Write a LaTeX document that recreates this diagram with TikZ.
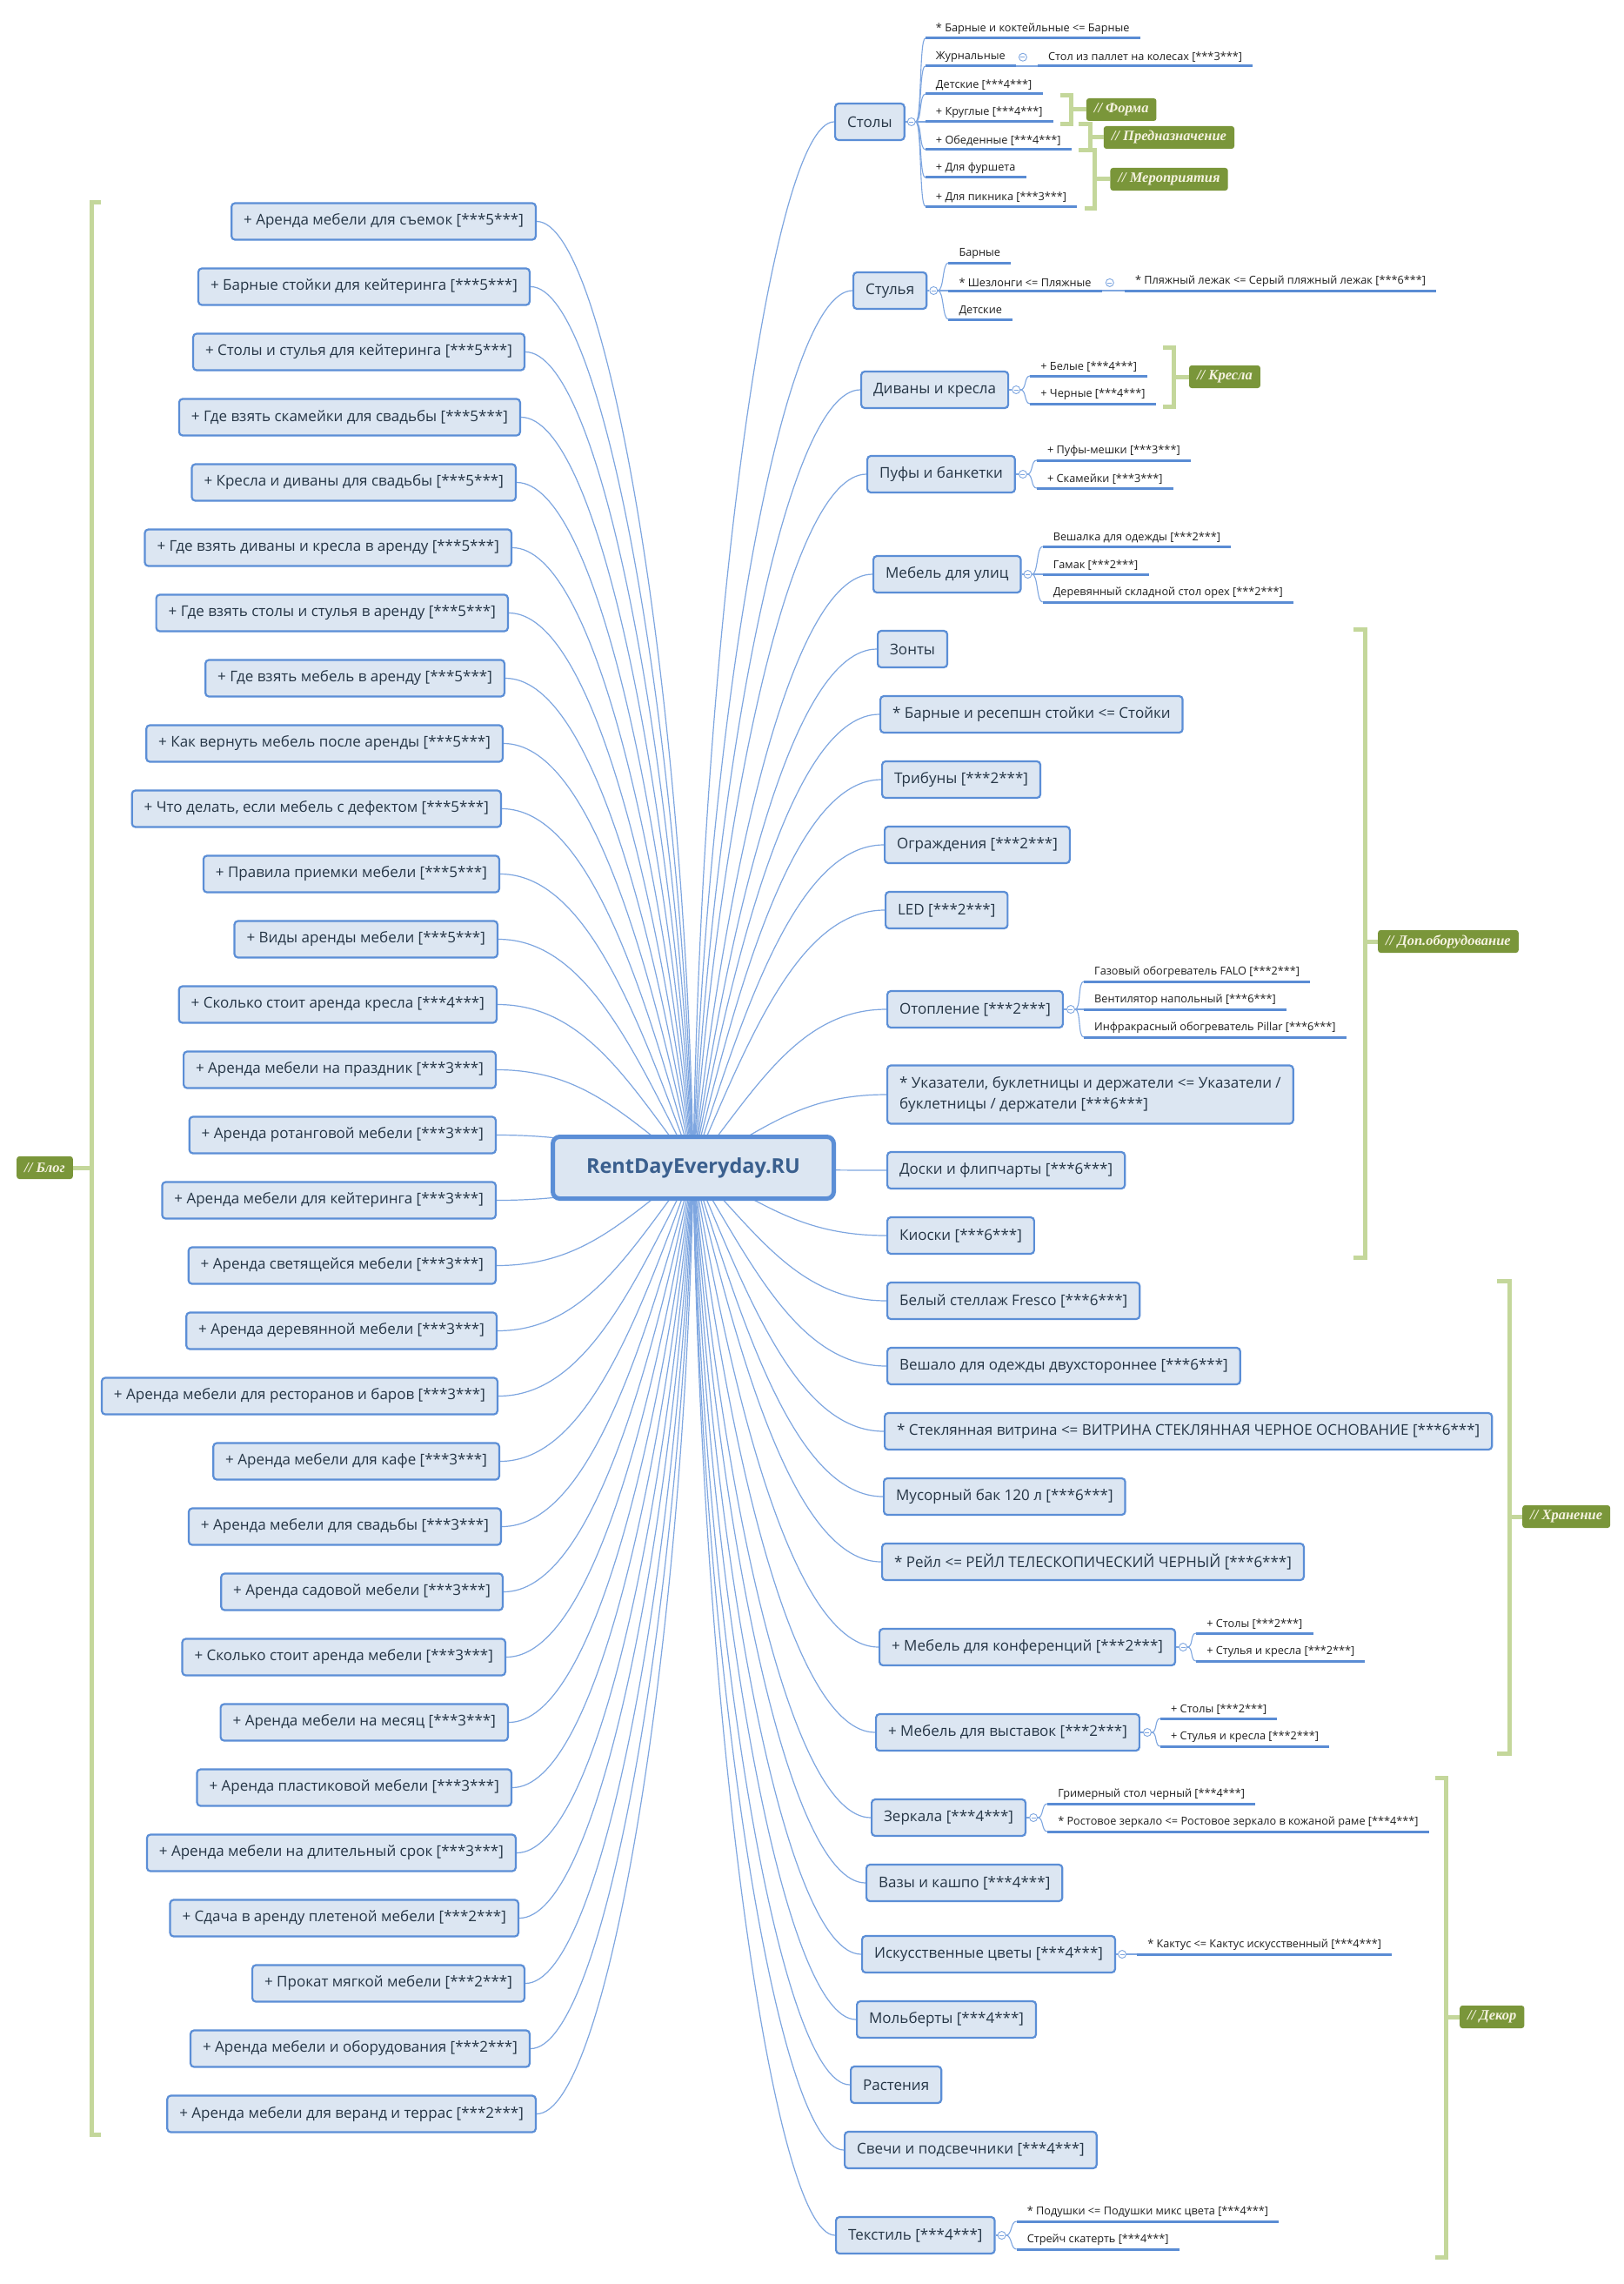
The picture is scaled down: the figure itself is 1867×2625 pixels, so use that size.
\documentclass[tikz,border=0pt]{standalone}
\usepackage{fontspec}
\setmainfont{Open Sans}
\newfontfamily\tagfont{Liberation Serif}
\usetikzlibrary{calc,backgrounds}
\definecolor{boxline}{HTML}{5B8ED6}
\definecolor{boxfill}{HTML}{DCE6F2}
\definecolor{boxtext}{HTML}{263646}
\definecolor{roottext}{HTML}{3A5F8E}
\definecolor{linkblue}{HTML}{7EA6E0}
\definecolor{underblue}{HTML}{5A8CD4}
\definecolor{tagfill}{HTML}{7A963A}
\definecolor{tagtext}{HTML}{F5F2E0}
\definecolor{bracegreen}{HTML}{C4D79B}
\newcommand{\topicsize}{\fontsize{17}{20}\selectfont}
\newcommand{\leafsize}{\fontsize{12.7}{15}\selectfont}
\tikzset{rootbox/.style={draw=boxline,fill=boxfill,line width=5pt,rounded corners=8pt,minimum width=323,minimum height=71,font=\bfseries\fontsize{23.5}{27}\selectfont,text=roottext},topic/.style={draw=boxline,fill=boxfill,line width=2.2pt,rounded corners=4pt,minimum height=42,inner xsep=14,font=\topicsize,text=boxtext},leaf/.style={anchor=south west,inner xsep=12,inner ysep=4,font=\leafsize,text=black!88},underl/.style={draw=underblue,line width=3pt},twig/.style={draw=linkblue,line width=1.1pt},branch/.style={draw=linkblue,line width=1.2pt},fold/.style={circle,draw=linkblue,fill=white,line width=.9pt,minimum size=9,inner sep=0pt,path picture={\draw[linkblue,line width=.8pt] ([xshift=-2.5pt]path picture bounding box.center)--([xshift=2.5pt]path picture bounding box.center);}},brace/.style={draw=bracegreen,line width=5pt},tag/.style={fill=tagfill,rounded corners=3pt,text=tagtext,font=\tagfont\bfseries\itshape\fontsize{16.5}{19}\selectfont,inner xsep=9,minimum height=26,anchor=west}}
\begin{document}
\begin{tikzpicture}[x=1pt,y=-1pt]
\useasboundingbox (0,0) rectangle (1867,2625);
\node[rootbox] (root) at (797,1342) {RentDayEveryday.RU};
\foreach \t/\r [count=\i] in {{+ Аренда мебели для съемок [***5***]}/617,{+ Барные стойки для кейтеринга [***5***]}/610,{+ Столы и стулья для кейтеринга [***5***]}/604,{+ Где взять скамейки для свадьбы [***5***]}/599,{+ Кресла и диваны для свадьбы [***5***]}/594,{+ Где взять диваны и кресла в аренду [***5***]}/589,{+ Где взять столы и стулья в аренду [***5***]}/585,{+ Где взять мебель в аренду [***5***]}/581,{+ Как вернуть мебель после аренды [***5***]}/579,{+ Что делать, если мебель с дефектом [***5***]}/577,{+ Правила приемки мебели [***5***]}/575,{+ Виды аренды мебели [***5***]}/573,{+ Сколько стоит аренда кресла [***4***]}/572,{+ Аренда мебели на праздник [***3***]}/571,{+ Аренда ротанговой мебели [***3***]}/571,{+ Аренда мебели для кейтеринга [***3***]}/571,{+ Аренда светящейся мебели [***3***]}/571,{+ Аренда деревянной мебели [***3***]}/572,{+ Аренда мебели для ресторанов и баров [***3***]}/573,{+ Аренда мебели для кафе [***3***]}/575,{+ Аренда мебели для свадьбы [***3***]}/577,{+ Аренда садовой мебели [***3***]}/579,{+ Сколько стоит аренда мебели [***3***]}/582,{+ Аренда мебели на месяц [***3***]}/585,{+ Аренда пластиковой мебели [***3***]}/589,{+ Аренда мебели на длительный срок [***3***]}/594,{+ Сдача в аренду плетеной мебели [***2***]}/597,{+ Прокат мягкой мебели [***2***]}/604,{+ Аренда мебели и оборудования [***2***]}/610,{+ Аренда мебели для веранд и террас [***2***]}/617}
  \node[topic,anchor=east] (b\i) at (\r,{254.5+75*(\i-1)}) {\t};
\node[topic,anchor=west] (stoly) at (959,140) {Столы};
\node[topic,anchor=west] (stulya) at (980,334) {Стулья};
\node[topic,anchor=west] (divany) at (989,448) {Диваны и кресла};
\node[topic,anchor=west] (pufy) at (996,545) {Пуфы и банкетки};
\node[topic,anchor=west] (ulica) at (1003,660) {Мебель для улиц};
\node[topic,anchor=west] (zonty) at (1008,746) {Зонты};
\node[topic,anchor=west] (stoiki) at (1011,821) {* Барные и ресепшн стойки <= Стойки};
\node[topic,anchor=west] (tribuny) at (1013,896) {Трибуны [***2***]};
\node[topic,anchor=west] (ograzhd) at (1016,971) {Ограждения [***2***]};
\node[topic,anchor=west] (led) at (1017,1046) {LED [***2***]};
\node[topic,anchor=west] (otopl) at (1019,1160) {Отопление [***2***]};
\node[topic,anchor=west,align=left,minimum height=67,font=\fontsize{17}{24}\selectfont] (ukaz) at (1019,1258) {* Указатели, буклетницы и держатели <= Указатели /\\буклетницы / держатели [***6***]};
\node[topic,anchor=west] (doski) at (1019,1345) {Доски и флипчарты [***6***]};
\node[topic,anchor=west] (kioski) at (1019,1420) {Киоски [***6***]};
\node[topic,anchor=west] (stellazh) at (1019,1495) {Белый стеллаж Fresco [***6***]};
\node[topic,anchor=west] (veshalo) at (1019,1570) {Вешало для одежды двухстороннее [***6***]};
\node[topic,anchor=west] (vitrina) at (1016,1645) {* Стеклянная витрина <= ВИТРИНА СТЕКЛЯННАЯ ЧЕРНОЕ ОСНОВАНИЕ [***6***]};
\node[topic,anchor=west] (bak) at (1015,1720) {Мусорный бак 120 л [***6***]};
\node[topic,anchor=west] (reil) at (1013,1795) {* Рейл <= РЕЙЛ ТЕЛЕСКОПИЧЕСКИЙ ЧЕРНЫЙ [***6***]};
\node[topic,anchor=west] (konf) at (1010,1893) {+ Мебель для конференций [***2***]};
\node[topic,anchor=west] (vyst) at (1006,1991) {+ Мебель для выставок [***2***]};
\node[topic,anchor=west] (zerkala) at (1001,2089) {Зеркала [***4***]};
\node[topic,anchor=west] (vazy) at (995,2164) {Вазы и кашпо [***4***]};
\node[topic,anchor=west] (cvety) at (990,2246) {Искусственные цветы [***4***]};
\node[topic,anchor=west] (molb) at (984,2321) {Мольберты [***4***]};
\node[topic,anchor=west] (rast) at (977,2396) {Растения};
\node[topic,anchor=west] (svechi) at (970,2471) {Свечи и подсвечники [***4***]};
\node[topic,anchor=west] (tekstil) at (960,2569) {Текстиль [***4***]};
\node[fold] (cst) at ([xshift=7]stoly.east) {};
\node[leaf] (st1) at ([shift={(16,-96)}]cst.center) {* Барные и коктейльные <= Барные};
\node[leaf] (st2) at ([shift={(16,-64)}]cst.center) {Журнальные};
\node[leaf] (st3) at ([shift={(16,-32)}]cst.center) {Детские [***4***]};
\node[leaf] (st4) at ([shift={(16,0)}]cst.center) {+ Круглые [***4***]};
\node[leaf] (st5) at ([shift={(16,32)}]cst.center) {+ Обеденные [***4***]};
\node[leaf] (st6) at ([shift={(16,64)}]cst.center) {+ Для фуршета};
\node[leaf] (st7) at ([shift={(16,97)}]cst.center) {+ Для пикника [***3***]};
\node[fold] (cst2) at ([xshift=8]st2.east) {};
\node[leaf] (st2a) at ([xshift=25]st2.south east) {Стол из паллет на колесах [***3***]};
\node[fold] (csl) at ([xshift=7]stulya.east) {};
\node[leaf] (sl1) at ([shift={(17,-32)}]csl.center) {Барные};
\node[leaf] (sl2) at ([shift={(17,0)}]csl.center) {* Шезлонги <= Пляжные};
\node[leaf] (sl3) at ([shift={(17,33)}]csl.center) {Детские};
\node[fold] (csl2) at ([xshift=9]sl2.east) {};
\node[leaf] (sl2a) at ([xshift=26]sl2.south east) {* Пляжный лежак <= Серый пляжный лежак [***6***]};
\node[fold] (cdv) at ([xshift=8]divany.east) {};
\node[leaf] (dv1) at ([shift={(16,-16)}]cdv.center) {+ Белые [***4***]};
\node[leaf] (dv2) at ([shift={(16,16)}]cdv.center) {+ Черные [***4***]};
\node[fold] (cpf) at ([xshift=8]pufy.east) {};
\node[leaf] (pf1) at ([shift={(16,-16)}]cpf.center) {+ Пуфы-мешки [***3***]};
\node[leaf] (pf2) at ([shift={(16,16)}]cpf.center) {+ Скамейки [***3***]};
\node[fold] (cul) at ([xshift=7]ulica.east) {};
\node[leaf] (ul1) at ([shift={(17,-32)}]cul.center) {Вешалка для одежды [***2***]};
\node[leaf] (ul2) at ([shift={(17,0)}]cul.center) {Гамак [***2***]};
\node[leaf] (ul3) at ([shift={(17,32)}]cul.center) {Деревянный складной стол орех [***2***]};
\node[fold] (cot) at ([xshift=8]otopl.east) {};
\node[leaf] (ot1) at ([shift={(15,-32)}]cot.center) {Газовый обогреватель FALO [***2***]};
\node[leaf] (ot2) at ([shift={(15,0)}]cot.center) {Вентилятор напольный [***6***]};
\node[leaf] (ot3) at ([shift={(15,32)}]cot.center) {Инфракрасный обогреватель Pillar [***6***]};
\node[fold] (ckf) at ([xshift=8]konf.east) {};
\node[leaf] (kf1) at ([shift={(15,-16)}]ckf.center) {+ Столы [***2***]};
\node[leaf] (kf2) at ([shift={(15,16)}]ckf.center) {+ Стулья и кресла [***2***]};
\node[fold] (cvs) at ([xshift=8]vyst.east) {};
\node[leaf] (vs1) at ([shift={(15,-16)}]cvs.center) {+ Столы [***2***]};
\node[leaf] (vs2) at ([shift={(15,16)}]cvs.center) {+ Стулья и кресла [***2***]};
\node[fold] (czr) at ([xshift=8]zerkala.east) {};
\node[leaf] (zr1) at ([shift={(16,-16)}]czr.center) {Гримерный стол черный [***4***]};
\node[leaf] (zr2) at ([shift={(16,16)}]czr.center) {* Ростовое зеркало <= Ростовое зеркало в кожаной раме [***4***]};
\node[fold] (ccv) at ([xshift=7]cvety.east) {};
\node[leaf] (cv1) at ([shift={(17,0)}]ccv.center) {* Кактус <= Кактус искусственный [***4***]};
\node[fold] (ctx) at ([xshift=7]tekstil.east) {};
\node[leaf] (tx1) at ([shift={(17,-16)}]ctx.center) {* Подушки <= Подушки микс цвета [***4***]};
\node[leaf] (tx2) at ([shift={(17,16)}]ctx.center) {Стрейч скатерть [***4***]};
\foreach \l in {st1,st2,st3,st4,st5,st6,st7,st2a,sl1,sl2,sl3,sl2a,dv1,dv2,pf1,pf2,ul1,ul2,ul3,ot1,ot2,ot3,kf1,kf2,vs1,vs2,zr1,zr2,cv1,tx1,tx2}
  \draw[underl] (\l.south west) -- (\l.south east);
\foreach \t/\f in {stoly/cst,stulya/csl,divany/cdv,pufy/cpf,ulica/cul,otopl/cot,konf/ckf,vyst/cvs,zerkala/czr,cvety/ccv,tekstil/ctx}
  \draw[twig] (\t.east) -- (\f.west);
\foreach \f/\l in {cst/st1,cst/st2,cst/st3,cst/st4,cst/st5,cst/st6,cst/st7,csl/sl1,csl/sl2,csl/sl3,cdv/dv1,cdv/dv2,cpf/pf1,cpf/pf2,cul/ul1,cul/ul2,cul/ul3,cot/ot1,cot/ot2,cot/ot3,ckf/kf1,ckf/kf2,cvs/vs1,cvs/vs2,czr/zr1,czr/zr2,ccv/cv1,ctx/tx1,ctx/tx2}
  \draw[twig] (\f.east) .. controls +(7,0) and +(-7,0) .. (\l.south west);
\draw[twig] (st2.south east) -- (st2a.south west);
\draw[twig] (sl2.south east) -- (sl2a.south west);
\draw[brace] let \p1=(st4.south east) in (\x1+8,\y1+30) -| (\x1+21,\y1-3) -- (\x1+8,\y1-3);
\path let \p1=(st4.south east) in node[tag] (forma) at (\x1+38,\y1+14) {// Форма};
\draw[brace] let \p1=(st4.south east) in (\x1+21,\y1+14) -- (forma.west);
\draw[brace] let \p1=(st5.south east) in (\x1+8,\y1+29) -| (\x1+22,\y1-1) -- (\x1+8,\y1-1);
\path let \p1=(st5.south east) in node[tag] (naznach) at (\x1+37,\y1+14) {// Предназначение};
\draw[brace] let \p1=(st5.south east) in (\x1+22,\y1+14) -- (naznach.west);
\draw[brace] let \p1=(st7.south east) in (\x1+9,\y1+64) -| (\x1+20,\y1-2) -- (\x1+9,\y1-2);
\path let \p1=(st7.south east) in node[tag] (meropr) at (\x1+38,\y1+31) {// Мероприятия};
\draw[brace] let \p1=(st7.south east) in (\x1+20,\y1+31) -- (meropr.west);
\draw[brace] let \p1=(dv2.south east) in (\x1+8,\y1+65) -| (\x1+21,\y1-3) -- (\x1+8,\y1-3);
\path let \p1=(dv2.south east) in node[tag] (kresla) at (\x1+38,\y1+31) {// Кресла};
\draw[brace] let \p1=(dv2.south east) in (\x1+21,\y1+31) -- (kresla.west);
\draw[brace] (1556,723) -| (1569,1445) -- (1556,1445);
\node[tag] (dop) at (1584,1082) {// Доп.оборудование};
\draw[brace] (1569,1082) -- (dop.west);
\draw[brace] (1721,1472) -| (1735,2015) -- (1721,2015);
\node[tag] (hran) at (1750,1743) {// Хранение};
\draw[brace] (1735,1743) -- (hran.west);
\draw[brace] (1650,2043) -| (1662,2594) -- (1650,2594);
\node[tag] (dekor) at (1678,2318) {// Декор};
\draw[brace] (1662,2318) -- (dekor.west);
\draw[brace] (116,232) -| (105,2453) -- (116,2453);
\node[tag,anchor=east] (blog) at (84,1342) {// Блог};
\draw[brace] (105,1342) -- (blog.east);
\begin{scope}[on background layer]
\fill[white] (0,0) rectangle (1867,2625);
\foreach \b in {1,...,30}
  \draw[branch] let \p0=(root.center),\p1=(b\b.east),\n1={abs(\y1-\y0)} in (\p0) .. controls ({\x0-max(8,85-0.07*\n1)},{(\y0+\y1)/2}) and ({\x1+0.45*(\x0-\x1)},\y1) .. (\p1);
\foreach \r in {stoly,stulya,divany,pufy,ulica,zonty,stoiki,tribuny,ograzhd,led,otopl,ukaz,doski,kioski,stellazh,veshalo,vitrina,bak,reil,konf,vyst,zerkala,vazy,cvety,molb,rast,svechi,tekstil}
  \draw[branch] let \p0=(root.center),\p1=(\r.west),\n1={abs(\y1-\y0)} in (\p0) .. controls ({\x0+max(8,85-0.07*\n1)},{(\y0+\y1)/2}) and ({\x1-0.45*(\x1-\x0)},\y1) .. (\p1);
\end{scope}
\end{tikzpicture}
\end{document}
